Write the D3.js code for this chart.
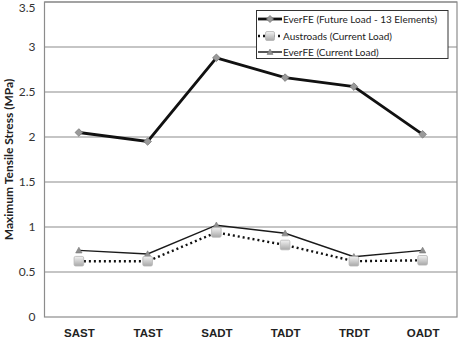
<!DOCTYPE html>
<html><head><meta charset="utf-8">
<script src="https://cdn.jsdelivr.net/npm/d3@7"></script>
<style>body{margin:0;background:#fff}svg{display:block;font-family:Lato,"Open Sans",sans-serif}</style>
</head><body><svg id="c" width="468" height="339"></svg>
<script>
const categories = ["SAST","TAST","SADT","TADT","TRDT","OADT"];
const futureLoad = [2.05, 1.95, 2.88, 2.66, 2.56, 2.03];
const austroads = [0.62, 0.62, 0.94, 0.80, 0.62, 0.63];
const currentLoad = [0.74, 0.70, 1.02, 0.93, 0.67, 0.74];
const yTicks = [0, 0.5, 1, 1.5, 2, 2.5, 3, 3.5];
const seriesNames = ["EverFE (Future Load - 13 Elements)", "Austroads (Current Load)", "EverFE (Current Load)"];

const svg = d3.select("#c");
const L = 44.5, R = 457, T = 2, B = 317;
const x = d3.scalePoint().domain(categories).range([L, R]).padding(0.5);
const y = d3.scaleLinear().domain([0, 3.5]).range([B, T]);

const defs = svg.append("defs");
const g1 = defs.append("linearGradient").attr("id","sq").attr("x1",0).attr("y1",0).attr("x2",0).attr("y2",1);
g1.append("stop").attr("offset","0%").attr("stop-color","#f2f2f2");
g1.append("stop").attr("offset","100%").attr("stop-color","#a8a8a8");

// gridlines
svg.append("g").selectAll("line").data(yTicks.filter(d=>d>0)).join("line")
  .attr("x1", L).attr("x2", R).attr("y1", d=>y(d)).attr("y2", d=>y(d))
  .attr("stroke", "#8c8c8c").attr("stroke-width", 1.2);
// plot border
svg.append("rect").attr("x", L).attr("y", T).attr("width", R-L).attr("height", B-T)
  .attr("fill","none").attr("stroke","#8c8c8c").attr("stroke-width",1.2);

// y axis
const ya = svg.append("g").attr("transform", `translate(${L},0)`)
  .call(d3.axisLeft(y).tickValues(yTicks).tickFormat(d=>String(d)).tickSize(0).tickPadding(9));
ya.select(".domain").remove();
ya.selectAll("text").attr("font-size", 12).attr("fill","#333").attr("font-family","Lato,sans-serif");
ya.selectAll(".tick").filter(d=>d===3.5).select("text").attr("dy","0.75em");

// x axis
const xa = svg.append("g").attr("transform", `translate(0,${B})`)
  .call(d3.axisBottom(x).tickSize(0).tickPadding(12));
xa.select(".domain").remove();
xa.selectAll("text").attr("font-size", 11.5).attr("font-weight","bold").attr("fill","#222");

// y title
svg.append("text").attr("transform", `translate(13,${(T+B)/2}) rotate(-90)`)
  .attr("text-anchor","middle").attr("font-size", 12).attr("font-weight","bold").attr("fill","#222")
  .text("Maximum Tensile Stress (MPa)");

const line = d3.line().x((d,i)=>x(categories[i])).y(d=>y(d));

// current load (thin)
svg.append("path").datum(currentLoad).attr("d", line).attr("fill","none").attr("stroke","#1a1a1a").attr("stroke-width",1.4);
// austroads dotted
svg.append("path").datum(austroads).attr("d", line).attr("fill","none").attr("stroke","#111").attr("stroke-width",2.4).attr("stroke-dasharray","2,3");
// future thick
svg.append("path").datum(futureLoad).attr("d", line).attr("fill","none").attr("stroke","#111").attr("stroke-width",2.8);

function diamond(sel, cx, cy, s){ sel.append("path").attr("d", `M${cx},${cy-s}L${cx+s},${cy}L${cx},${cy+s}L${cx-s},${cy}Z`).attr("fill","#9a9a9a").attr("stroke","#777").attr("stroke-width",0.8); }
function square(sel, cx, cy, s){ sel.append("rect").attr("x",cx-s).attr("y",cy-s).attr("width",2*s).attr("height",2*s).attr("rx",1.5).attr("fill","url(#sq)").attr("stroke","#b5b5b5").attr("stroke-width",0.8); }
function tri(sel, cx, cy, s){ sel.append("path").attr("d", `M${cx},${cy-s}L${cx+s},${cy+s*0.8}L${cx-s},${cy+s*0.8}Z`).attr("fill","#8f8f8f").attr("stroke","#777").attr("stroke-width",0.6); }

const mk = svg.append("g");
currentLoad.forEach((v,i)=>tri(mk, x(categories[i]), y(v), 3.2));
austroads.forEach((v,i)=>square(mk, x(categories[i]), y(v), 4.8));
futureLoad.forEach((v,i)=>diamond(mk, x(categories[i]), y(v), 3.8));

// legend
const lg = svg.append("g");
lg.append("rect").attr("x",256.5).attr("y",10.5).attr("width",191.5).attr("height",48).attr("fill","#fff").attr("stroke","#333").attr("stroke-width",1);
const rows = [19, 36, 52];
const lx1 = 258, lx2 = 282, lm = 270;
lg.append("line").attr("x1",lx1).attr("x2",lx2).attr("y1",rows[0]).attr("y2",rows[0]).attr("stroke","#111").attr("stroke-width",2.8);
diamond(lg, lm, rows[0], 3.5);
lg.append("line").attr("x1",lx1).attr("x2",lx2).attr("y1",rows[1]).attr("y2",rows[1]).attr("stroke","#111").attr("stroke-width",2.4).attr("stroke-dasharray","2,3");
square(lg, lm, rows[1], 4.5);
lg.append("line").attr("x1",lx1).attr("x2",lx2).attr("y1",rows[2]).attr("y2",rows[2]).attr("stroke","#111").attr("stroke-width",1.4);
tri(lg, lm, rows[2], 3);
lg.selectAll("text.l").data(seriesNames).join("text").attr("class","l")
  .attr("x", 283).attr("y", (d,i)=>rows[i]).attr("dy","0.35em")
  .attr("font-size", 10).attr("fill","#222").text(d=>d);
</script></body></html>
